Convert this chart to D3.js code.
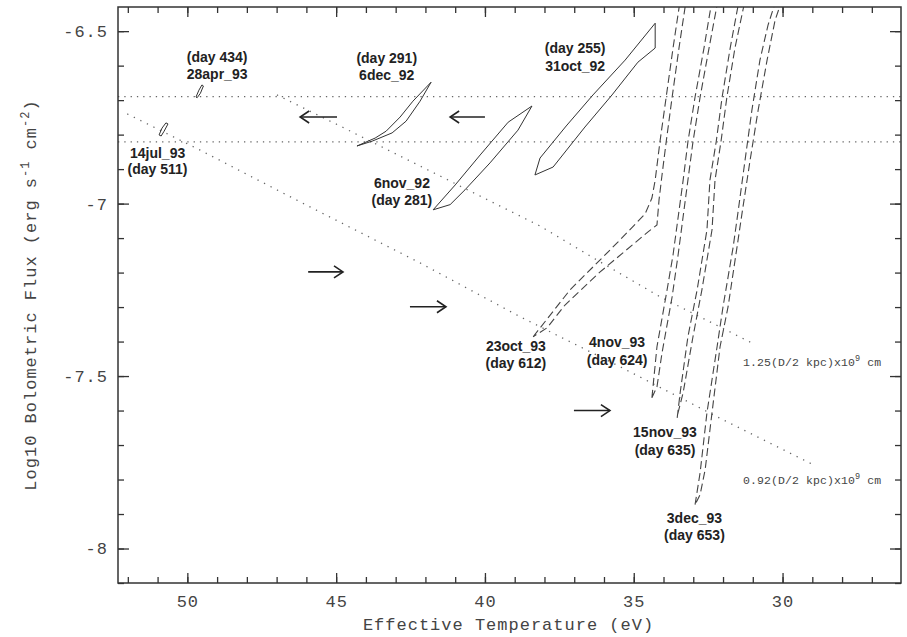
<!DOCTYPE html>
<html>
<head>
<meta charset="utf-8">
<script src="https://cdn.jsdelivr.net/npm/d3@7"></script>
<style>
  body { margin: 0; background: #fff; }
  svg { display: block; }
</style>
</head>
<body>
<script>
// values, points are [T (eV), log10 F]

// horizontal dotted flux levels
const fluxLevels = [-6.690, -6.821];

// constant-radius tracks (dotted)
const radius125 = [[46.99,-6.685],[44.87,-6.775],[41.51,-6.920],[38.15,-7.065],[36.13,-7.169],[34.12,-7.270],[31.03,-7.404]];
const radius092 = [[52.02,-6.740],[49.57,-6.845],[46.21,-6.995],[42.18,-7.172],[38.82,-7.328],[35.46,-7.473],[32.20,-7.618],[28.97,-7.757]];

// solid confidence contours
const c28apr93 = [[49.71,-6.691],[49.61,-6.671],[49.51,-6.656],[49.46,-6.659],[49.56,-6.680],[49.67,-6.693]];
const c14jul93 = [[50.95,-6.801],[50.85,-6.781],[50.72,-6.766],[50.65,-6.769],[50.78,-6.790],[50.88,-6.804]];
const c6dec92 = [[44.30,-6.833],[43.69,-6.810],[43.32,-6.790],[42.85,-6.749],[42.42,-6.703],[41.81,-6.648],[42.18,-6.703],[42.65,-6.761],[43.12,-6.795],[43.79,-6.819]];
const c6nov92 = [[41.74,-7.018],[41.00,-6.946],[40.16,-6.859],[39.22,-6.764],[38.42,-6.717],[38.89,-6.787],[39.83,-6.882],[40.67,-6.960],[41.17,-7.003]];
const c31oct92 = [[38.32,-6.917],[38.15,-6.868],[37.27,-6.775],[36.37,-6.685],[35.29,-6.584],[34.28,-6.477],[34.28,-6.549],[34.86,-6.590],[35.73,-6.685],[36.64,-6.778],[37.71,-6.894]];

// dashed contours (open at the top, run past the frame)
const c23oct93 = [[38.38,-7.386],[37.14,-7.250],[35.56,-7.114],[34.62,-7.030],[34.39,-6.984],[34.28,-6.932],[34.12,-6.821],[33.91,-6.691],[33.68,-6.549],[33.44,-6.410],
  [33.24,-6.410],[33.48,-6.549],[33.71,-6.691],[33.91,-6.821],[34.05,-6.917],[34.15,-6.989],[34.22,-7.062],[34.52,-7.082],[36.13,-7.198],[37.31,-7.294],[37.91,-7.360]];
const c4nov93 = [[34.39,-7.563],[34.22,-7.415],[33.88,-7.250],[33.68,-7.149],[33.34,-6.932],[33.18,-6.821],[32.94,-6.691],[32.64,-6.549],[32.37,-6.410],
  [32.17,-6.410],[32.47,-6.549],[32.77,-6.691],[33.01,-6.821],[33.18,-6.932],[33.51,-7.149],[33.71,-7.270],[34.05,-7.433],[34.22,-7.531]];
const c15nov93 = [[33.54,-7.621],[33.44,-7.548],[33.18,-7.386],[32.87,-7.250],[32.54,-7.076],[32.44,-6.932],[32.23,-6.821],[32.03,-6.691],[31.76,-6.549],[31.46,-6.410],
  [31.26,-6.410],[31.60,-6.549],[31.87,-6.691],[32.07,-6.821],[32.27,-6.932],[32.37,-7.076],[32.71,-7.250],[33.01,-7.386],[33.34,-7.548],[33.51,-7.606]];
const c3dec93 = [[32.94,-7.873],[32.77,-7.780],[32.54,-7.606],[32.20,-7.415],[32.00,-7.299],[31.66,-7.126],[31.50,-7.027],[31.26,-6.874],[31.03,-6.729],[30.76,-6.584],[30.49,-6.483],[30.22,-6.410],
  [30.02,-6.410],[30.25,-6.468],[30.52,-6.584],[30.82,-6.729],[31.09,-6.874],[31.36,-7.027],[31.53,-7.126],[31.83,-7.299],[32.10,-7.415],[32.37,-7.606],[32.60,-7.771],[32.77,-7.844]];

// arrows: [T start, T end, log F]
const arrows = [[44.97,46.21,-6.749],[40.00,41.17,-6.749],[45.94,44.77,-7.198],[42.52,41.31,-7.299],[37.01,35.80,-7.600]];

// date labels
const labelNames = ["28apr_93","14jul_93","6dec_92","31oct_92","6nov_92","23oct_93","4nov_93","15nov_93","3dec_93"];
const labelDays = ["(day 434)","(day 511)","(day 291)","(day 255)","(day 281)","(day 612)","(day 624)","(day 635)","(day 653)"];
const labelT = [49.00, 51.00, 43.30, 36.97, 42.79, 38.96, 35.56, 33.95, 32.96];
const nameF = [-6.639, -6.868, -6.642, -6.616, -6.955, -7.427, -7.415, -7.676, -7.925];
const dayF = [-6.590, -6.914, -6.593, -6.564, -7.004, -7.476, -7.467, -7.728, -7.974];

// radius labels
const radiusText = ["1.25(D/2 kpc)x10", "0.92(D/2 kpc)x10"];
const radiusLabelT = 31.33;
const radiusLabelF = [-7.470, -7.812];

// ticks
const xTicks = [50, 45, 40, 35, 30];
const yTicks = [-6.5, -7, -7.5, -8];

const w = 907;
const h = 637;

const svg = d3.select("body").append("svg").attr("width", w).attr("height", h);

const x = d3.scaleLinear().domain([52.33, 26.02]).range([118, 901]);
const y = d3.scaleLinear().domain([-6.43, -8.1]).range([7, 583]);

const monoFont = "'Liberation Mono', 'DejaVu Sans Mono', monospace";
const boldFont = "'Liberation Sans', Arial, sans-serif";

svg.append("clipPath").attr("id", "plot")
  .append("rect")
  .attr("x", x.range()[0]).attr("y", y.range()[0])
  .attr("width", x.range()[1] - x.range()[0])
  .attr("height", y.range()[1] - y.range()[0]);

const plot = svg.append("g").attr("clip-path", "url(#plot)");

const line = d3.line().x(d => x(d[0])).y(d => y(d[1]));
const closed = d3.line().x(d => x(d[0])).y(d => y(d[1])).curve(d3.curveLinearClosed);

// dotted reference levels
plot.selectAll(".level")
  .data(fluxLevels)
  .enter()
  .append("line")
  .attr("x1", x.range()[0]).attr("x2", x.range()[1])
  .attr("y1", d => y(d)).attr("y2", d => y(d))
  .attr("stroke", "#666")
  .attr("stroke-width", 1.2)
  .attr("stroke-dasharray", "1.3,5");

plot.selectAll(".radius")
  .data([radius125, radius092])
  .enter()
  .append("path")
  .attr("d", line)
  .attr("fill", "none")
  .attr("stroke", "#666")
  .attr("stroke-width", 1.3)
  .attr("stroke-dasharray", "1.3,6");

// solid contours
plot.selectAll(".solid")
  .data([c28apr93, c14jul93, c6dec92, c6nov92, c31oct92])
  .enter()
  .append("path")
  .attr("d", closed)
  .attr("fill", "none")
  .attr("stroke", "#333")
  .attr("stroke-width", 1);

// dashed contours
plot.selectAll(".dashed")
  .data([c23oct93, c4nov93, c15nov93, c3dec93])
  .enter()
  .append("path")
  .attr("d", closed)
  .attr("fill", "none")
  .attr("stroke", "#444")
  .attr("stroke-width", 1.1)
  .attr("stroke-dasharray", "8,4");

// arrows
const arr = svg.append("g").attr("stroke", "#222").attr("stroke-width", 1.6).attr("fill", "none");
arrows.forEach(a => {
  const x0 = x(a[0]), x1 = x(a[1]), yy = y(a[2]);
  const dir = Math.sign(x1 - x0);
  arr.append("line").attr("x1", x0).attr("x2", x1).attr("y1", yy).attr("y2", yy);
  arr.append("path")
    .attr("d", `M${x1 - dir * 9},${yy - 6}L${x1},${yy}L${x1 - dir * 9},${yy + 6}`);
});

// date labels
const labels = svg.append("g")
  .attr("font-family", boldFont)
  .attr("font-weight", "bold")
  .attr("font-size", 14)
  .attr("fill", "#222")
  .attr("text-anchor", "middle");

labelNames.forEach((name, i) => {
  labels.append("text").attr("x", x(labelT[i])).attr("y", y(nameF[i])).text(name);
  labels.append("text").attr("x", x(labelT[i])).attr("y", y(dayF[i])).text(labelDays[i]);
});

radiusText.forEach((t, i) => {
  const txt = svg.append("text")
    .attr("x", x(radiusLabelT)).attr("y", y(radiusLabelF[i]))
    .attr("font-family", monoFont)
    .attr("font-size", 11.5)
    .attr("fill", "#444")
    .attr("letter-spacing", 0.1);
  txt.append("tspan").text(t);
  txt.append("tspan").attr("dy", -5).attr("font-size", 8.5).text("9");
  txt.append("tspan").attr("dy", 5).text(" cm");
});

// axes, ticks pointing inwards on all four sides
const axisStyle = g => {
  g.select(".domain").remove();
  g.selectAll("line").attr("stroke", "#333").attr("stroke-width", 1.3);
  g.selectAll("text")
    .attr("font-family", monoFont)
    .attr("font-size", 17)
    .attr("fill", "#444")
    .attr("letter-spacing", 1);
};

const minorX = d3.range(27, 53);
const minorY = d3.range(-81, -64).map(v => v / 10);

svg.append("g").attr("transform", `translate(0,${y.range()[1]})`)
  .call(d3.axisBottom(x).tickValues(xTicks).tickSize(-10).tickPadding(12).tickFormat(d3.format("d")))
  .call(axisStyle);
svg.append("g").attr("transform", `translate(0,${y.range()[1]})`)
  .call(d3.axisBottom(x).tickValues(minorX).tickSize(-6).tickFormat(""))
  .call(axisStyle);
svg.append("g").attr("transform", `translate(0,${y.range()[0]})`)
  .call(d3.axisTop(x).tickValues(xTicks).tickSize(-10).tickFormat(""))
  .call(axisStyle);
svg.append("g").attr("transform", `translate(0,${y.range()[0]})`)
  .call(d3.axisTop(x).tickValues(minorX).tickSize(-6).tickFormat(""))
  .call(axisStyle);

svg.append("g").attr("transform", `translate(${x.range()[0]},0)`)
  .call(d3.axisLeft(y).tickValues(yTicks).tickSize(-11).tickPadding(10).tickFormat(d => String(d)))
  .call(axisStyle);
svg.append("g").attr("transform", `translate(${x.range()[0]},0)`)
  .call(d3.axisLeft(y).tickValues(minorY).tickSize(-6).tickFormat(""))
  .call(axisStyle);
svg.append("g").attr("transform", `translate(${x.range()[1]},0)`)
  .call(d3.axisRight(y).tickValues(yTicks).tickSize(-11).tickFormat(""))
  .call(axisStyle);
svg.append("g").attr("transform", `translate(${x.range()[1]},0)`)
  .call(d3.axisRight(y).tickValues(minorY).tickSize(-6).tickFormat(""))
  .call(axisStyle);

// frame
svg.append("rect")
  .attr("x", x.range()[0]).attr("y", y.range()[0])
  .attr("width", x.range()[1] - x.range()[0])
  .attr("height", y.range()[1] - y.range()[0])
  .attr("fill", "none")
  .attr("stroke", "#333")
  .attr("stroke-width", 1.5);

// axis titles
svg.append("text")
  .attr("x", (x.range()[0] + x.range()[1]) / 2 - 1)
  .attr("y", 630)
  .attr("text-anchor", "middle")
  .attr("font-family", monoFont)
  .attr("font-size", 17)
  .attr("letter-spacing", 1)
  .attr("fill", "#444")
  .text("Effective Temperature (eV)");

const yTitle = svg.append("text")
  .attr("transform", `translate(36,${(y.range()[0] + y.range()[1]) / 2}) rotate(-90)`)
  .attr("text-anchor", "middle")
  .attr("font-family", monoFont)
  .attr("font-size", 17)
  .attr("letter-spacing", 1)
  .attr("fill", "#444");
yTitle.append("tspan").text("Log10 Bolometric Flux (erg s");
yTitle.append("tspan").attr("dy", -7).attr("font-size", 12).text("-1");
yTitle.append("tspan").attr("dy", 7).text(" cm");
yTitle.append("tspan").attr("dy", -7).attr("font-size", 12).text("-2");
yTitle.append("tspan").attr("dy", 7).text(")");
</script>
</body>
</html>
